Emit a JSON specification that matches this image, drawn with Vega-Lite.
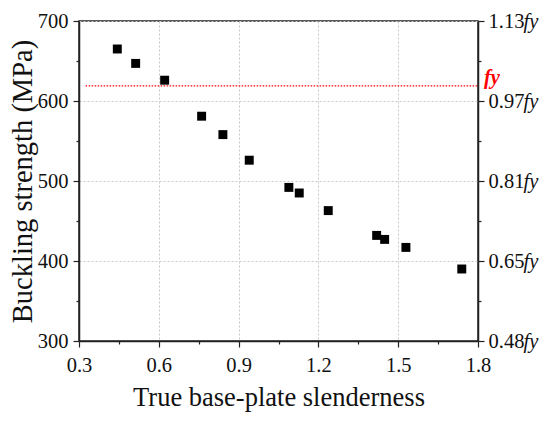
{
  "$schema": "https://vega.github.io/schema/vega-lite/v6.json",
  "width": 399,
  "height": 320,
  "autosize": "none",
  "padding": {"left": 79, "top": 21, "right": 72, "bottom": 82},
  "background": "white",
  "datasets": {
    "points": [
      {"x": 0.444, "y": 665},
      {"x": 0.513, "y": 647},
      {"x": 0.622, "y": 626},
      {"x": 0.761, "y": 581},
      {"x": 0.841, "y": 558},
      {"x": 0.94, "y": 526},
      {"x": 1.089, "y": 492},
      {"x": 1.128, "y": 485},
      {"x": 1.237, "y": 463},
      {"x": 1.419, "y": 432},
      {"x": 1.449, "y": 427},
      {"x": 1.529, "y": 417},
      {"x": 1.739, "y": 390}
    ],
    "fyline": [
      {"x": 0.325, "x2": 1.8, "y": 619, "label": "fy"}
    ]
  },
  "config": {
    "view": {"stroke": "#222", "strokeWidth": 1.5},
    "axis": {
      "labelFont": "Liberation Serif",
      "titleFont": "Liberation Serif",
      "labelFontSize": 20.5,
      "titleFontSize": 25,
      "titleFontWeight": "normal",
      "labelColor": "#111",
      "titleColor": "#111",
      "domainColor": "#222",
      "domainWidth": 1.5,
      "tickColor": "#222",
      "tickWidth": 1.2,
      "tickSize": 6,
      "labelOverlap": false,
      "labelFlush": false,
      "labelBound": false,
      "grid": false,
      "gridColor": "#c8c8c8",
      "gridDash": [2, 2],
      "gridWidth": 1
    }
  },
  "resolve": {"axis": {"x": "independent", "y": "independent"}},
  "layer": [
    {
      "data": {"name": "points"},
      "mark": {"type": "square", "filled": true, "color": "black", "size": 80, "opacity": 1},
      "encoding": {
        "x": {
          "field": "x", "type": "quantitative",
          "scale": {"domain": [0.3, 1.8], "nice": false, "zero": false},
          "axis": {"orient": "bottom", "values": [0.3, 0.6, 0.9, 1.2, 1.5, 1.8], "format": ".1f", "grid": true,
                   "title": "True base-plate slenderness", "titleFontSize": 26.5, "titlePadding": 9, "labelPadding": 8}
        },
        "y": {
          "field": "y", "type": "quantitative",
          "scale": {"domain": [300, 700], "nice": false, "zero": false},
          "axis": {"orient": "left", "values": [300, 400, 500, 600, 700], "grid": true,
                   "title": "Buckling strength (MPa)", "titleFontSize": 28.5, "titlePadding": 0, "labelPadding": 5}
        }
      }
    },
    {
      "data": {"name": "fyline"},
      "mark": {"type": "rule", "color": "red", "strokeWidth": 1.2, "strokeDash": [1.5, 1.5]},
      "encoding": {
        "x": {
          "field": "x", "type": "quantitative",
          "scale": {"domain": [0.3, 1.8], "nice": false, "zero": false},
          "axis": {"orient": "bottom", "values": [0.45, 0.75, 1.05, 1.35, 1.65], "labels": false, "domain": false, "tickSize": 3, "title": null}
        },
        "x2": {"field": "x2"},
        "y": {
          "field": "y", "type": "quantitative",
          "scale": {"domain": [300, 700], "nice": false, "zero": false},
          "axis": {"orient": "right", "values": [300, 400, 500, 600, 700], "title": null, "labelPadding": 4,
                   "labelExpr": "datum.value == 700 ? '1.13' : datum.value == 600 ? '0.97' : datum.value == 500 ? '0.81' : datum.value == 400 ? '0.65' : '0.48'"}
        }
      }
    },
    {
      "data": {"name": "fyline"},
      "mark": {"type": "text", "color": "red", "font": "Liberation Serif", "fontStyle": "italic", "fontWeight": "bold",
               "fontSize": 20.5, "align": "left", "baseline": "alphabetic", "dx": 6, "dy": -2},
      "encoding": {
        "x": {"field": "x2", "type": "quantitative", "scale": {"domain": [0.3, 1.8], "nice": false, "zero": false}, "axis": null},
        "y": {
          "field": "y", "type": "quantitative",
          "scale": {"domain": [300, 700], "nice": false, "zero": false},
          "axis": {"orient": "right", "values": [300, 400, 500, 600, 700], "title": null, "ticks": false, "tickSize": 0,
                   "domain": false, "labelPadding": 45, "labelFontStyle": "italic", "labelExpr": "'fy'"}
        },
        "text": {"field": "label"}
      }
    },
    {
      "data": {"name": "points"},
      "mark": {"type": "point", "opacity": 0},
      "encoding": {
        "x": {"field": "x", "type": "quantitative", "scale": {"domain": [0.3, 1.8], "nice": false, "zero": false}, "axis": null},
        "y": {
          "field": "y", "type": "quantitative",
          "scale": {"domain": [300, 700], "nice": false, "zero": false},
          "axis": {"orient": "left", "values": [350, 450, 550, 650], "labels": false, "domain": false, "tickSize": 3, "title": null}
        }
      }
    },
    {
      "data": {"name": "points"},
      "mark": {"type": "point", "opacity": 0},
      "encoding": {
        "x": {"field": "x", "type": "quantitative", "scale": {"domain": [0.3, 1.8], "nice": false, "zero": false}, "axis": null},
        "y": {
          "field": "y", "type": "quantitative",
          "scale": {"domain": [300, 700], "nice": false, "zero": false},
          "axis": {"orient": "right", "values": [350, 450, 550, 650], "labels": false, "domain": false, "tickSize": 3, "title": null}
        }
      }
    }
  ]
}
